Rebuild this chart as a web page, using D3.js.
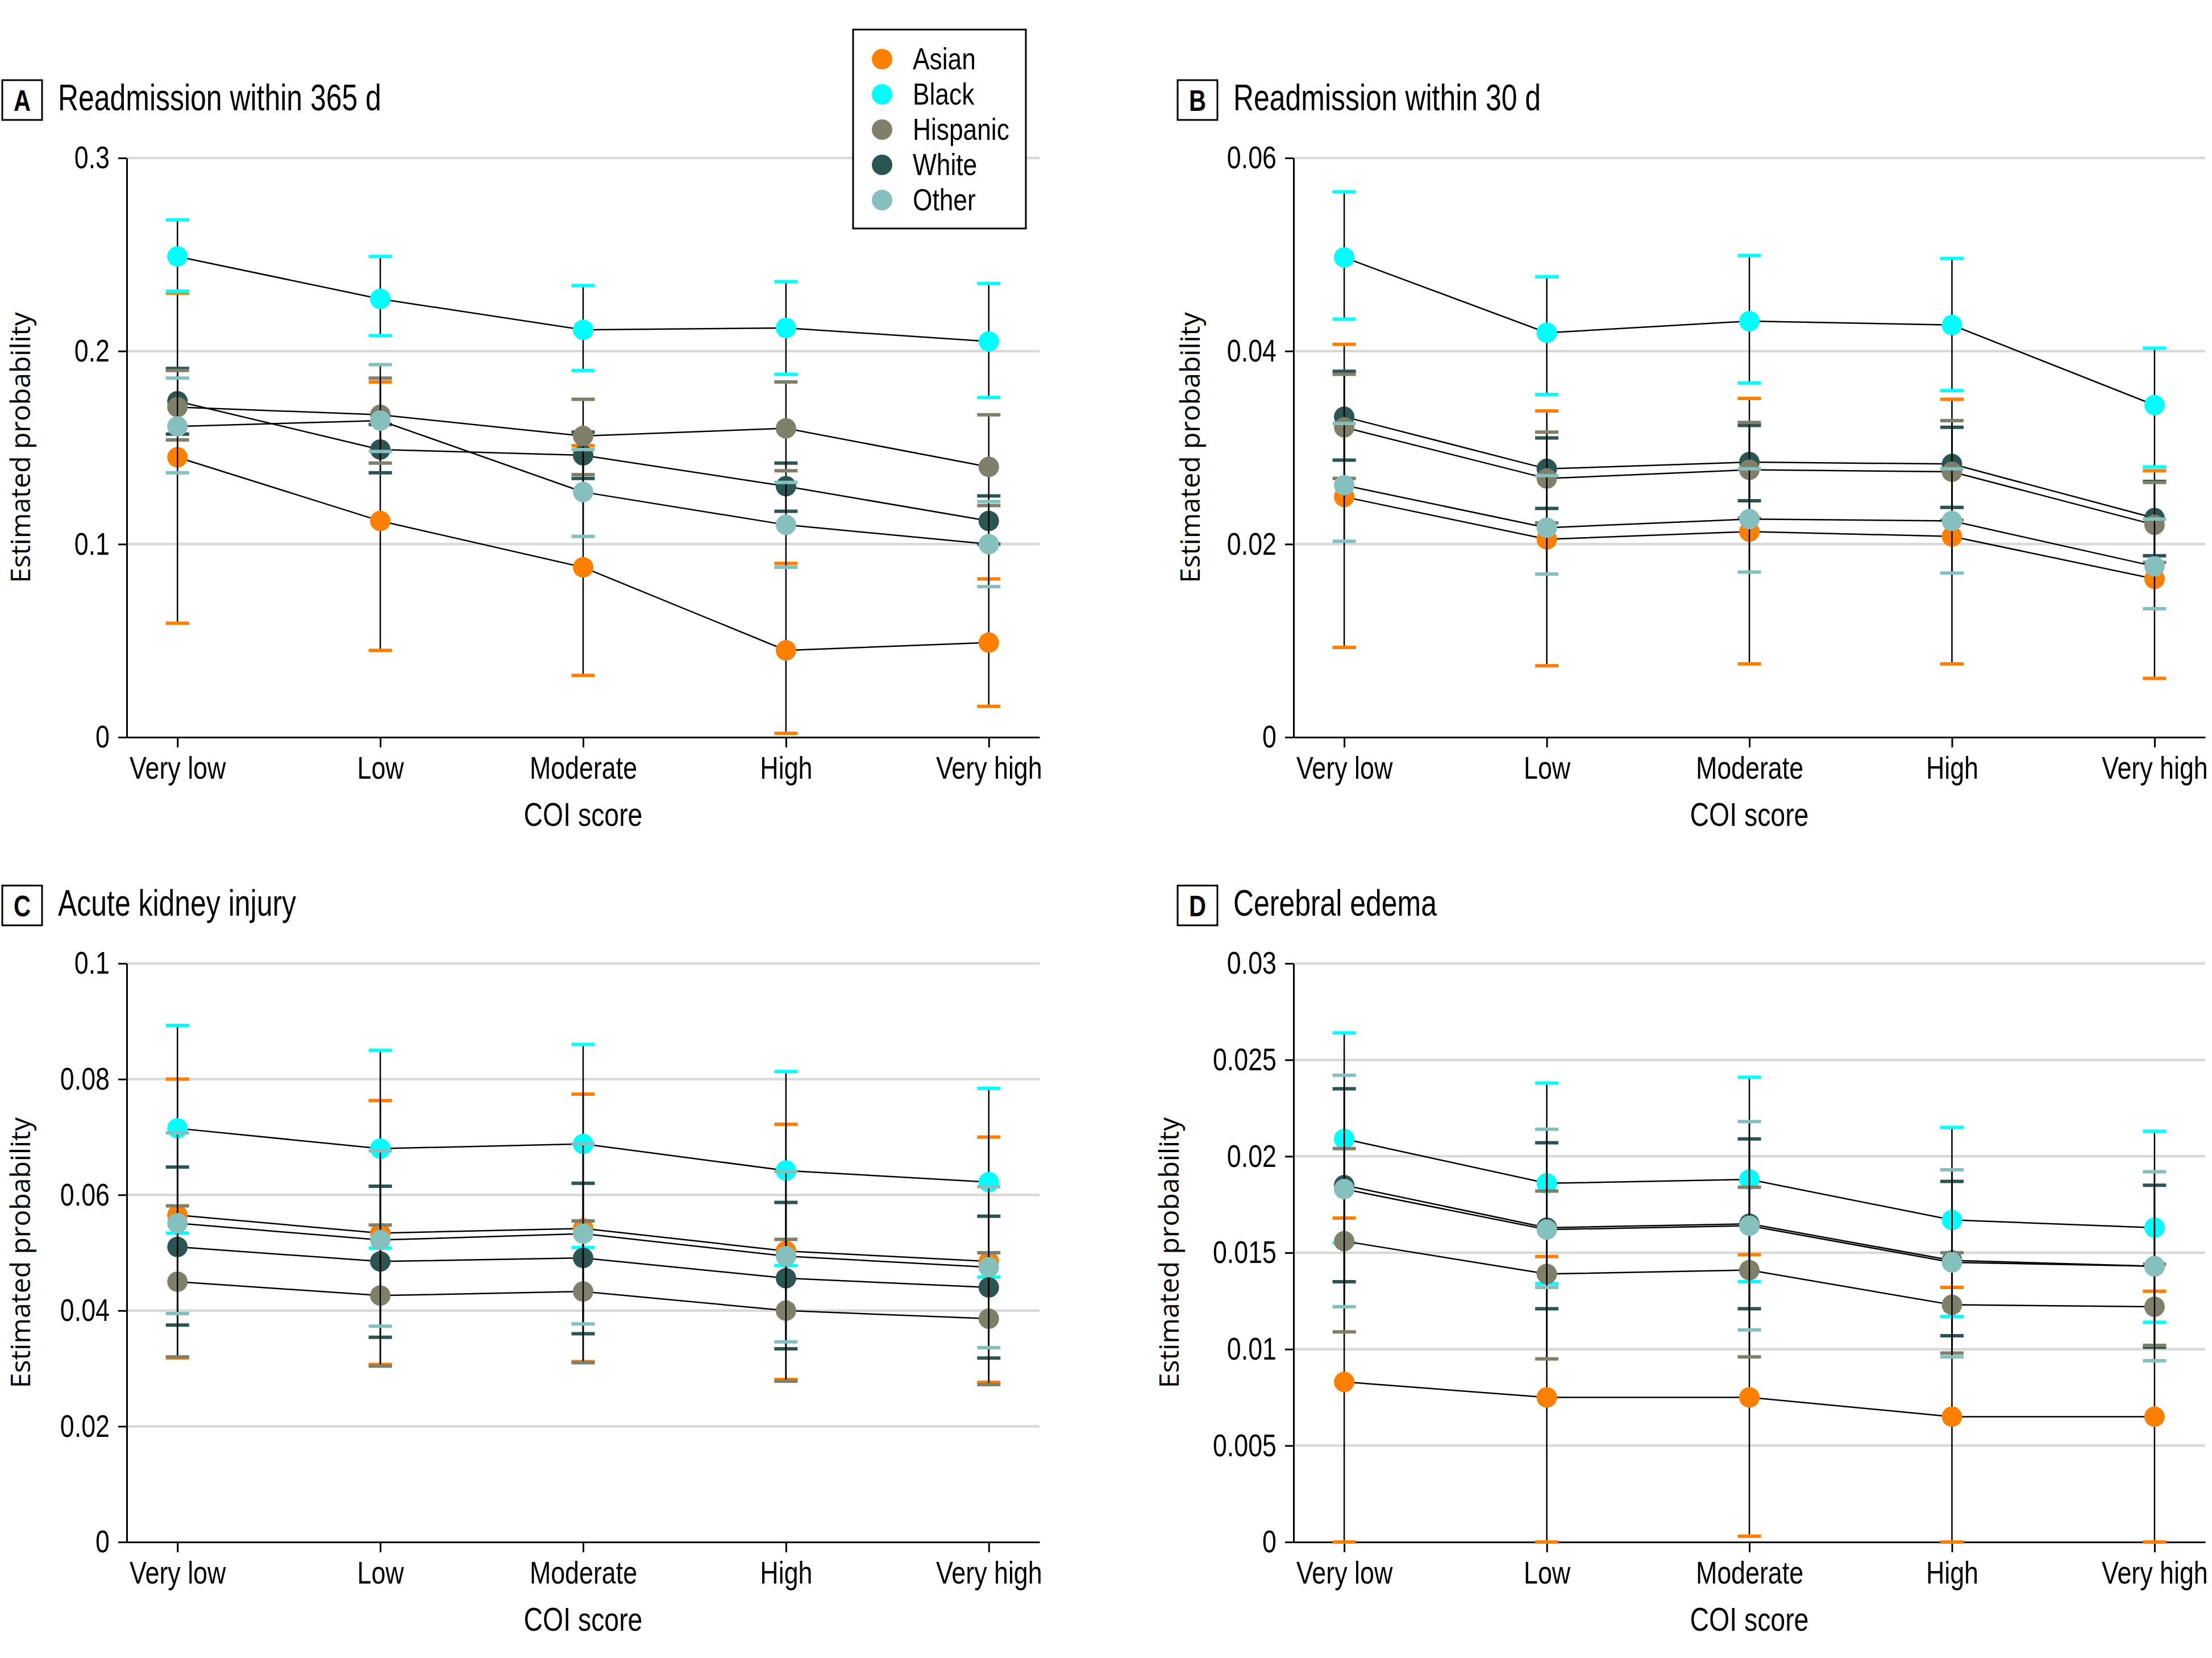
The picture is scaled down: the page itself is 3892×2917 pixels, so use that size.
<!DOCTYPE html>
<html><head><meta charset="utf-8">
<script src="https://cdn.jsdelivr.net/npm/d3@7"></script>
<style>body{margin:0;background:#fff} svg{display:block}</style>
</head><body>
<svg id="chart" width="3892" height="2917"></svg>
<script>
// ---------- data ----------
const categories = ["Very low", "Low", "Moderate", "High", "Very high"];
const groups = ["Asian", "Black", "Hispanic", "White", "Other"];
const groupColors = ["#ff8000", "#00ffff", "#7f7f6a", "#2b5553", "#85c0bf"];
const drawOrder = [0, 1, 3, 2, 4];

// Panel A: Readmission within 365 d (rows: Asian, Black, Hispanic, White, Other)
const readm365Est = [
  [0.145, 0.112, 0.088, 0.045, 0.049],
  [0.249, 0.227, 0.211, 0.212, 0.205],
  [0.171, 0.167, 0.156, 0.160, 0.140],
  [0.174, 0.149, 0.146, 0.130, 0.112],
  [0.161, 0.164, 0.127, 0.110, 0.100]];
const readm365Lo = [
  [0.059, 0.045, 0.032, 0.002, 0.016],
  [0.231, 0.208, 0.190, 0.188, 0.176],
  [0.154, 0.142, 0.136, 0.138, 0.120],
  [0.157, 0.137, 0.134, 0.117, 0.100],
  [0.137, 0.148, 0.104, 0.088, 0.078]];
const readm365Hi = [
  [0.230, 0.184, 0.151, 0.090, 0.082],
  [0.268, 0.249, 0.234, 0.236, 0.235],
  [0.190, 0.186, 0.175, 0.184, 0.167],
  [0.191, 0.162, 0.158, 0.142, 0.125],
  [0.186, 0.193, 0.149, 0.132, 0.122]];
const ticksA = [0, 0.1, 0.2, 0.3];
const tickLabelsA = ["0", "0.1", "0.2", "0.3"];

// Panel B: Readmission within 30 d
const readm30Est = [
  [0.0249, 0.0205, 0.0213, 0.0208, 0.0164],
  [0.0497, 0.0419, 0.0431, 0.0427, 0.0344],
  [0.0321, 0.0268, 0.0277, 0.0275, 0.0220],
  [0.0332, 0.0278, 0.0285, 0.0283, 0.0227],
  [0.0261, 0.0217, 0.0226, 0.0224, 0.0177]];
const readm30Lo = [
  [0.0093, 0.0074, 0.0076, 0.0076, 0.0061],
  [0.0433, 0.0355, 0.0367, 0.0359, 0.0280],
  [0.0268, 0.0222, 0.0227, 0.0225, 0.0181],
  [0.0287, 0.0237, 0.0245, 0.0238, 0.0188],
  [0.0203, 0.0169, 0.0171, 0.0170, 0.0133]];
const readm30Hi = [
  [0.0407, 0.0338, 0.0351, 0.0350, 0.0276],
  [0.0565, 0.0477, 0.0499, 0.0496, 0.0403],
  [0.0376, 0.0316, 0.0326, 0.0328, 0.0264],
  [0.0379, 0.0310, 0.0323, 0.0321, 0.0265],
  [0.0325, 0.0271, 0.0278, 0.0278, 0.0226]];
const ticksB = [0, 0.02, 0.04, 0.06];
const tickLabelsB = ["0", "0.02", "0.04", "0.06"];

// Panel C: Acute kidney injury
const akiEst = [
  [0.0565, 0.0534, 0.0542, 0.0503, 0.0485],
  [0.0715, 0.0680, 0.0688, 0.0642, 0.0622],
  [0.0450, 0.0426, 0.0433, 0.0400, 0.0386],
  [0.0510, 0.0485, 0.0491, 0.0456, 0.0440],
  [0.0551, 0.0522, 0.0533, 0.0494, 0.0475]];
const akiLo = [
  [0.0318, 0.0307, 0.0312, 0.0281, 0.0276],
  [0.0534, 0.0508, 0.0509, 0.0478, 0.0458],
  [0.0320, 0.0304, 0.0310, 0.0278, 0.0272],
  [0.0375, 0.0354, 0.0360, 0.0334, 0.0318],
  [0.0395, 0.0373, 0.0377, 0.0346, 0.0336]];
const akiHi = [
  [0.0800, 0.0763, 0.0774, 0.0722, 0.0700],
  [0.0893, 0.0850, 0.0860, 0.0813, 0.0784],
  [0.0581, 0.0548, 0.0555, 0.0523, 0.0500],
  [0.0648, 0.0615, 0.0620, 0.0587, 0.0563],
  [0.0707, 0.0676, 0.0688, 0.0640, 0.0614]];
const ticksC = [0, 0.02, 0.04, 0.06, 0.08, 0.1];
const tickLabelsC = ["0", "0.02", "0.04", "0.06", "0.08", "0.1"];

// Panel D: Cerebral edema
const edemaEst = [
  [0.0083, 0.0075, 0.0075, 0.0065, 0.0065],
  [0.0209, 0.0186, 0.0188, 0.0167, 0.0163],
  [0.0156, 0.0139, 0.0141, 0.0123, 0.0122],
  [0.0185, 0.0163, 0.0165, 0.0146, 0.0143],
  [0.0183, 0.0162, 0.0164, 0.0145, 0.0143]];
const edemaLo = [
  [0.0000, 0.0000, 0.0003, 0.0000, 0.0000],
  [0.0155, 0.0134, 0.0135, 0.0117, 0.0114],
  [0.0109, 0.0095, 0.0096, 0.0098, 0.0102],
  [0.0135, 0.0121, 0.0121, 0.0107, 0.0101],
  [0.0122, 0.0132, 0.0110, 0.0096, 0.0094]];
const edemaHi = [
  [0.0168, 0.0148, 0.0149, 0.0132, 0.0130],
  [0.0264, 0.0238, 0.0241, 0.0215, 0.0213],
  [0.0204, 0.0182, 0.0184, 0.0150, 0.0144],
  [0.0235, 0.0207, 0.0209, 0.0187, 0.0185],
  [0.0242, 0.0214, 0.0218, 0.0193, 0.0192]];
const ticksD = [0, 0.005, 0.01, 0.015, 0.02, 0.025, 0.03];
const tickLabelsD = ["0", "0.005", "0.01", "0.015", "0.02", "0.025", "0.03"];

// ---------- layout ----------
const sans = "'Liberation Sans',Arial,sans-serif";
const panels = [
  {letter: "A", title: "Readmission within 365 d", est: readm365Est, lo: readm365Lo, hi: readm365Hi,
   ticks: ticksA, tickLabels: tickLabelsA, x0: 223, x1: 1829, yTop: 278, yBot: 1297, boxX: 4, labelX: 53},
  {letter: "B", title: "Readmission within 30 d", est: readm30Est, lo: readm30Lo, hi: readm30Hi,
   ticks: ticksB, tickLabels: tickLabelsB, x0: 2276, x1: 3880, yTop: 278, yBot: 1297, boxX: 2072, labelX: 2111},
  {letter: "C", title: "Acute kidney injury", est: akiEst, lo: akiLo, hi: akiHi,
   ticks: ticksC, tickLabels: tickLabelsC, x0: 223, x1: 1829, yTop: 1695, yBot: 2713, boxX: 4, labelX: 53},
  {letter: "D", title: "Cerebral edema", est: edemaEst, lo: edemaLo, hi: edemaHi,
   ticks: ticksD, tickLabels: tickLabelsD, x0: 2276, x1: 3880, yTop: 1695, yBot: 2713, boxX: 2072, labelX: 2074}
];

// horizontally condense text glyphs (reference uses a condensed face)
function condense(sel, k) {
  sel.each(function () {
    const w = this.getComputedTextLength();
    d3.select(this).attr("textLength", w * k).attr("lengthAdjust", "spacingAndGlyphs");
  });
}

const svg = d3.select("#chart");

panels.forEach(p => {
  const yMax = p.ticks[p.ticks.length - 1];
  const x = d3.scalePoint().domain(categories).range([p.x0, p.x1]).padding(0.25);
  const y = d3.scaleLinear().domain([0, yMax]).range([p.yBot, p.yTop]);
  const g = svg.append("g");

  // title box + title
  const by = p.yTop - 137;
  g.append("rect").attr("x", p.boxX).attr("y", by).attr("width", 70).attr("height", 70)
    .attr("fill", "none").attr("stroke", "#000").attr("stroke-width", 3);
  g.append("text").attr("x", p.boxX + 35).attr("y", by + 54).attr("text-anchor", "middle")
    .attr("font-family", sans).attr("font-weight", "bold").attr("font-size", 52).text(p.letter)
    .call(condense, 0.8);
  g.append("text").attr("x", p.boxX + 98).attr("y", by + 53)
    .attr("font-family", sans).attr("font-size", 64).text(p.title).call(condense, 0.78);

  // gridlines
  g.append("g").selectAll("line").data(p.ticks.filter(t => t > 0)).join("line")
    .attr("x1", p.x0).attr("x2", p.x1).attr("y1", d => y(d)).attr("y2", d => y(d))
    .attr("stroke", "#d9d9d9").attr("stroke-width", 4.5);

  // y axis
  const ya = g.append("g").attr("transform", `translate(${p.x0},0)`)
    .call(d3.axisLeft(y).tickValues(p.ticks).tickFormat((d, i) => p.tickLabels[i])
      .tickSize(15).tickSizeOuter(0).tickPadding(15));
  ya.selectAll("path,line").attr("stroke", "#000").attr("stroke-width", 3);
  ya.selectAll("text").attr("font-family", sans).attr("font-size", 56).attr("fill", "#000")
    .call(condense, 0.8);

  // x axis (labels condensed by a horizontal scale about the tick position)
  const xa = g.append("g").attr("transform", `translate(0,${p.yBot})`)
    .call(d3.axisBottom(x).tickSize(18).tickSizeOuter(0).tickPadding(15));
  xa.selectAll("path,line").attr("stroke", "#000").attr("stroke-width", 3);
  xa.selectAll("text").attr("font-family", sans).attr("font-size", 56).attr("fill", "#000")
    .attr("transform", "scale(0.8,1)");

  // axis titles
  g.append("text").attr("transform", `translate(${p.labelX},${(p.yTop + p.yBot) / 2}) rotate(-90)`)
    .attr("text-anchor", "middle").attr("font-family", "'Open Sans','Noto Sans',sans-serif")
    .attr("font-size", 48).text("Estimated probability");
  g.append("text").attr("x", (p.x0 + p.x1) / 2).attr("y", p.yBot + 156).attr("text-anchor", "middle")
    .attr("font-family", sans).attr("font-size", 58).text("COI score").call(condense, 0.8);

  // series
  const line = d3.line();
  drawOrder.forEach(gi => {
    const sg = g.append("g").attr("class", "series-" + groups[gi]);
    const pts = categories.map((c, ci) => ({c, v: p.est[gi][ci], lo: p.lo[gi][ci], hi: p.hi[gi][ci]}));
    sg.append("path").attr("d", line(pts.map(d => [x(d.c), y(d.v)])))
      .attr("fill", "none").attr("stroke", "#000").attr("stroke-width", 2.5);
    sg.selectAll(".err").data(pts).join("line").attr("class", "err")
      .attr("x1", d => x(d.c)).attr("x2", d => x(d.c)).attr("y1", d => y(d.lo)).attr("y2", d => y(d.hi))
      .attr("stroke", "#000").attr("stroke-width", 2.5);
    const caps = pts.flatMap(d => [{c: d.c, v: d.lo}, {c: d.c, v: d.hi}]);
    sg.selectAll(".cap").data(caps).join("line").attr("class", "cap")
      .attr("x1", d => x(d.c) - 20.5).attr("x2", d => x(d.c) + 20.5).attr("y1", d => y(d.v)).attr("y2", d => y(d.v))
      .attr("stroke", groupColors[gi]).attr("stroke-width", 6);
    sg.selectAll("circle").data(pts).join("circle")
      .attr("cx", d => x(d.c)).attr("cy", d => y(d.v)).attr("r", 18).attr("fill", groupColors[gi]);
  });
});

// legend
const lg = svg.append("g");
lg.append("rect").attr("x", 1501).attr("y", 52).attr("width", 304).attr("height", 350)
  .attr("fill", "#fff").attr("stroke", "#000").attr("stroke-width", 3);
groups.forEach((grp, i) => {
  const cy = 104 + i * 62;
  lg.append("circle").attr("cx", 1552).attr("cy", cy).attr("r", 18).attr("fill", groupColors[i]);
  lg.append("text").attr("x", 1606).attr("y", cy + 18).attr("font-family", sans)
    .attr("font-size", 54).text(grp).call(condense, 0.82);
});
</script>
</body></html>
